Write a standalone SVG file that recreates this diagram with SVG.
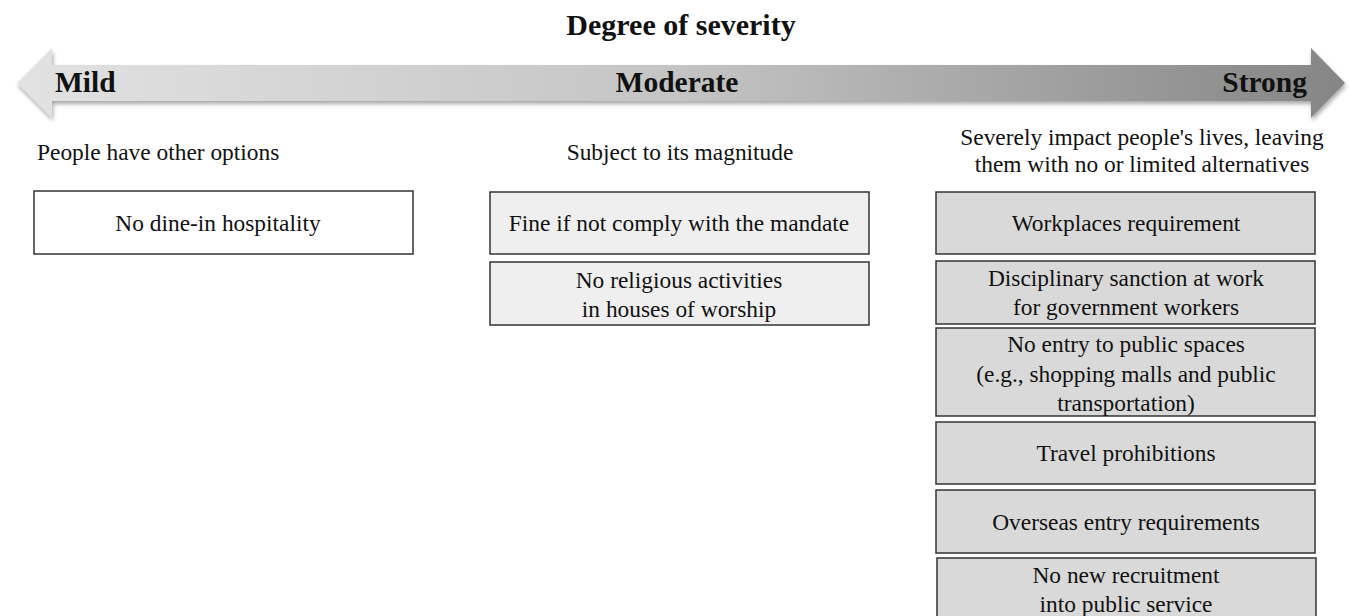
<svg xmlns="http://www.w3.org/2000/svg" width="1349" height="616" viewBox="0 0 1349 616">
<style>
text{font-family:"Liberation Serif","Times New Roman",serif;fill:#111;}
.b{font-weight:bold;}
.t{font-size:23.4px;text-anchor:middle;}
.s{font-size:23.4px;}
.box{stroke:#333;stroke-width:1.5;}
.w{fill:#ffffff;}
.m{fill:#efefef;}
.d{fill:#d9d9d9;}
</style>
<defs>
<linearGradient id="g" x1="0" y1="0" x2="1" y2="0">
<stop offset="0" stop-color="#e2e2e2"/>
<stop offset="0.5" stop-color="#c4c4c4"/>
<stop offset="1" stop-color="#858585"/>
</linearGradient>
<filter id="sh" x="-5%" y="-20%" width="110%" height="150%">
<feGaussianBlur in="SourceAlpha" stdDeviation="2"/>
<feOffset dx="1" dy="3"/>
<feComponentTransfer><feFuncA type="linear" slope="0.35"/></feComponentTransfer>
<feMerge><feMergeNode/><feMergeNode in="SourceGraphic"/></feMerge>
</filter>
</defs>
<text x="681" y="35" class="b" font-size="30" text-anchor="middle">Degree of severity</text>
<g id="axis">
<path d="M17,83 L52,48 L52,65 L1311,65 L1311,48 L1345,83 L1311,118 L1311,101 L52,101 L52,118 Z" fill="url(#g)" filter="url(#sh)"/>
<text x="55" y="92" class="b" font-size="29.5">Mild</text>
<text x="677" y="92" class="b" font-size="29.5" text-anchor="middle">Moderate</text>
<text x="1307" y="92" class="b" font-size="29.5" text-anchor="end">Strong</text>
</g>
<text x="37" y="160" class="s">People have other options</text>
<text x="680" y="160" class="s" text-anchor="middle">Subject to its magnitude</text>
<text x="1142" y="145" class="s" text-anchor="middle">Severely impact people's lives, leaving</text>
<text x="1142" y="172" class="s" text-anchor="middle">them with no or limited alternatives</text>
<g id="n1"><rect class="box w" x="34" y="191" width="379" height="63"/><text class="t" x="218" y="231">No dine-in hospitality</text></g>
<g id="n2"><rect class="box m" x="490" y="192" width="379" height="62"/><text class="t" x="679" y="231">Fine if not comply with the mandate</text></g>
<g id="n3"><rect class="box m" x="490" y="262" width="379" height="63"/><text class="t" x="679" y="288">No religious activities</text><text class="t" x="679" y="317">in houses of worship</text></g>
<g id="n4"><rect class="box d" x="936" y="192" width="379" height="62"/><text class="t" x="1126" y="231">Workplaces requirement</text></g>
<g id="n5"><rect class="box d" x="936" y="261" width="379" height="63"/><text class="t" x="1126" y="286">Disciplinary sanction at work</text><text class="t" x="1126" y="315">for government workers</text></g>
<g id="n6"><rect class="box d" x="936" y="328" width="379" height="88"/><text class="t" x="1126" y="352">No entry to public spaces</text><text class="t" x="1126" y="382">(e.g., shopping malls and public</text><text class="t" x="1126" y="411">transportation)</text></g>
<g id="n7"><rect class="box d" x="936" y="422" width="379" height="62"/><text class="t" x="1126" y="461">Travel prohibitions</text></g>
<g id="n8"><rect class="box d" x="936" y="490" width="379" height="63"/><text class="t" x="1126" y="530">Overseas entry requirements</text></g>
<g id="n9"><rect class="box d" x="937" y="558" width="379" height="70"/><text class="t" x="1126" y="583">No new recruitment</text><text class="t" x="1126" y="612">into public service</text></g>
<g id="connectors"></g>
</svg>
